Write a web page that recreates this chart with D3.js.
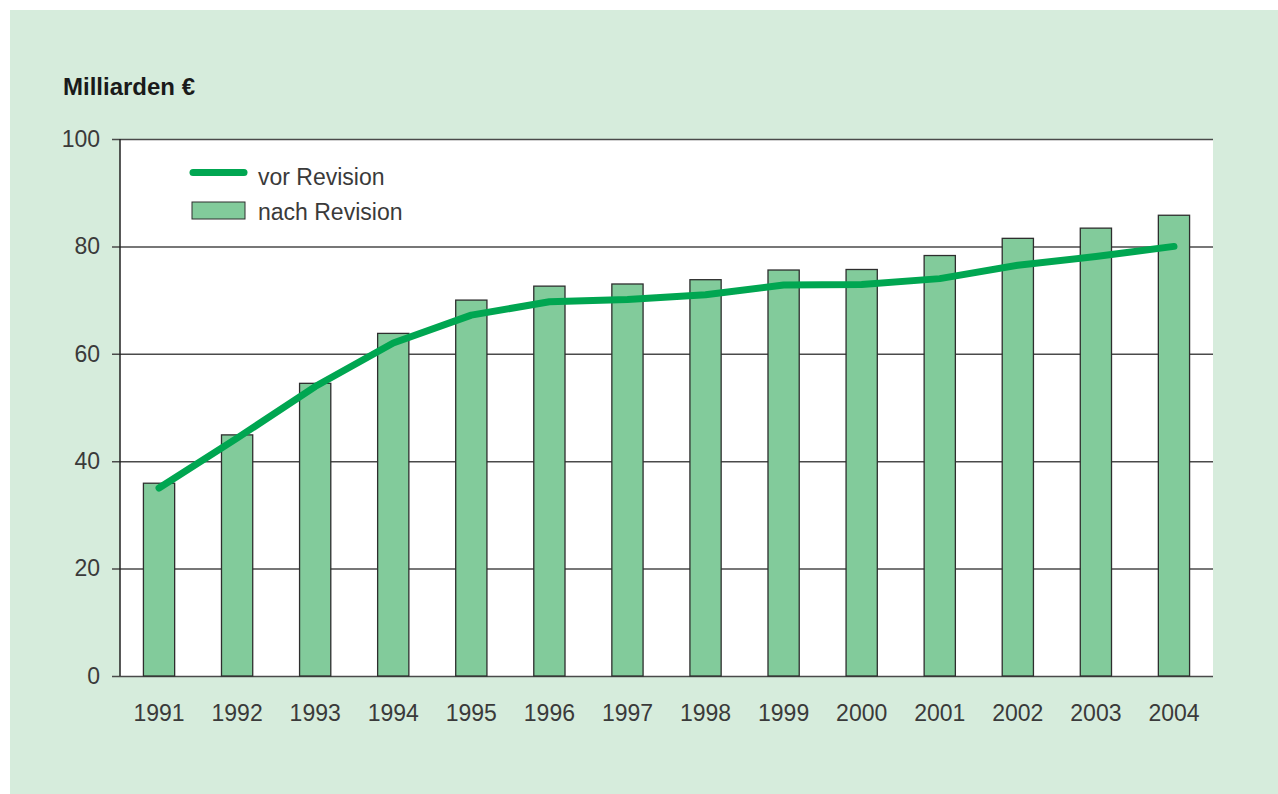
<!DOCTYPE html>
<html>
<head>
<meta charset="utf-8">
<script src="https://d3js.org/d3.v7.min.js"></script>
<style>
body{ margin:0; background:#fff; }
svg{ display:block; font-family:"Liberation Sans", Arial, sans-serif; }
</style>
</head>
<body>
<script>
// data
var years = ["1991","1992","1993","1994","1995","1996","1997","1998","1999","2000","2001","2002","2003","2004"];
var nachRevision = [35.9, 44.9, 54.5, 63.8, 70.0, 72.6, 73.0, 73.8, 75.6, 75.7, 78.3, 81.5, 83.4, 85.8];
var vorRevision = [35.0, 44.3, 53.9, 62.0, 67.2, 69.7, 70.1, 71.0, 72.8, 72.9, 74.0, 76.5, 78.1, 80.0];
var yTicks = [0, 20, 40, 60, 80, 100];

var W = 1278, H = 794;
var margin = {left:120, right:65, top:139, bottom:118};
var fs = 23;

var svg = d3.select("body").append("svg")
  .attr("width", W).attr("height", H);

// green panel
svg.append("rect")
  .attr("x", 10).attr("y", 10)
  .attr("width", W - 10).attr("height", H - 10)
  .attr("fill", "#d6ecdc");

var x = d3.scaleBand()
  .domain(years)
  .range([margin.left, W - margin.right])
  .paddingInner(0.6).paddingOuter(0.3);

var y = d3.scaleLinear()
  .domain([0, 100])
  .range([H - margin.bottom, margin.top]);

// plot background
svg.append("rect")
  .attr("x", margin.left).attr("y", margin.top)
  .attr("width", W - margin.right - margin.left)
  .attr("height", H - margin.bottom - margin.top)
  .attr("fill", "#fff");

// grid + left ticks
var yAxis = d3.axisLeft(y).tickValues(yTicks)
  .tickSize(-(W - margin.right - margin.left)).tickPadding(20);
var gy = svg.append("g")
  .attr("transform", "translate(" + margin.left + ",0)")
  .call(yAxis);
gy.select(".domain").remove();
gy.selectAll(".tick line")
  .attr("x1", -8)
  .attr("stroke", "#4a4a4a").attr("stroke-width", 1.5);
gy.selectAll(".tick text")
  .attr("font-size", fs).attr("fill", "#3a3a3a")
  .attr("font-family", "Liberation Sans, Arial, sans-serif");

// bars
svg.selectAll(".bar")
  .data(nachRevision)
  .enter().append("rect")
  .attr("class", "bar")
  .attr("x", function(d, i){ return x(years[i]); })
  .attr("y", function(d){ return y(d); })
  .attr("width", x.bandwidth())
  .attr("height", function(d){ return y(0) - y(d); })
  .attr("fill", "#82cb9b")
  .attr("stroke", "#2e2e2e").attr("stroke-width", 1.3);

// left axis line
svg.append("line")
  .attr("x1", margin.left).attr("x2", margin.left)
  .attr("y1", y(100)).attr("y2", y(0))
  .attr("stroke", "#222").attr("stroke-width", 1.5);

// x labels
var xAxis = d3.axisBottom(x).tickSize(0).tickPadding(29);
var gx = svg.append("g")
  .attr("transform", "translate(0," + y(0) + ")")
  .call(xAxis);
gx.select(".domain").remove();
gx.selectAll(".tick text")
  .attr("font-size", fs).attr("fill", "#3a3a3a")
  .attr("font-family", "Liberation Sans, Arial, sans-serif");

// line
var line = d3.line()
  .x(function(d, i){ return x(years[i]) + x.bandwidth() / 2; })
  .y(function(d){ return y(d); });
svg.append("path")
  .datum(vorRevision)
  .attr("d", line)
  .attr("fill", "none")
  .attr("stroke", "#00a651")
  .attr("stroke-width", 7)
  .attr("stroke-linecap", "round")
  .attr("stroke-linejoin", "round");

// legend
svg.append("line")
  .attr("x1", 193).attr("x2", 244)
  .attr("y1", 172.5).attr("y2", 172.5)
  .attr("stroke", "#00a651").attr("stroke-width", 7)
  .attr("stroke-linecap", "round");
svg.append("text")
  .attr("x", 258).attr("y", 185)
  .attr("font-size", fs).attr("fill", "#3a3a3a")
  .text("vor Revision");
svg.append("rect")
  .attr("x", 192).attr("y", 202)
  .attr("width", 53).attr("height", 17)
  .attr("fill", "#82cb9b")
  .attr("stroke", "#2e2e2e").attr("stroke-width", 1);
svg.append("text")
  .attr("x", 258).attr("y", 219.5)
  .attr("font-size", fs).attr("fill", "#3a3a3a")
  .text("nach Revision");

// unit title
svg.append("text")
  .attr("x", 63).attr("y", 95)
  .attr("font-size", 24).attr("font-weight", "bold").attr("fill", "#1a1a1a")
  .text("Milliarden €");
</script>
</body>
</html>
